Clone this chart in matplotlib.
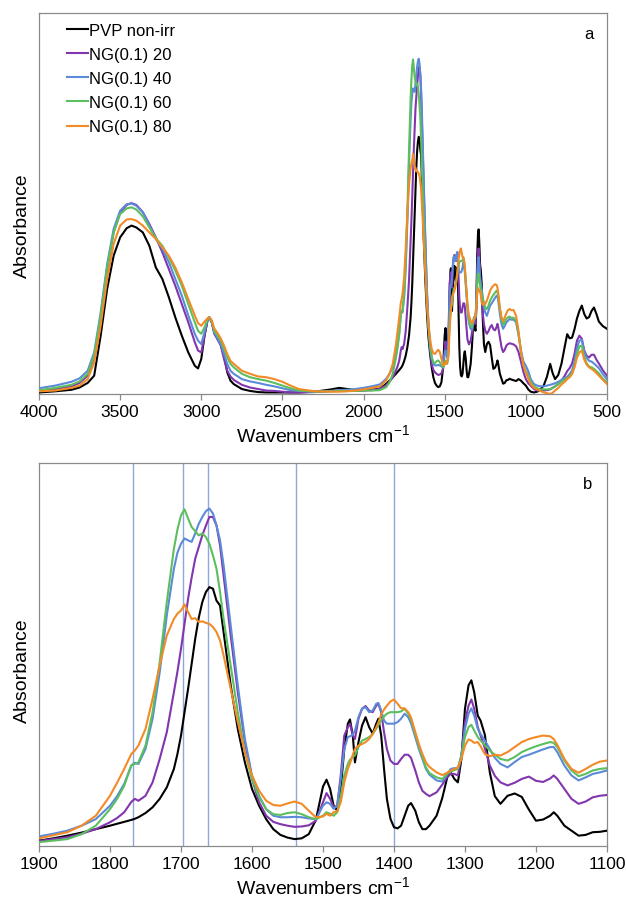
import matplotlib
matplotlib.use('Agg')
import matplotlib.pyplot as plt

plt.rcParams['font.family'] = ['Liberation Sans', 'DejaVu Sans']
plt.rcParams['mathtext.fontset'] = 'custom'
plt.rcParams['mathtext.rm'] = 'Liberation Sans'
plt.rcParams['mathtext.default'] = 'regular'

## wavenumber grids (cm-1)
wn_hi = [4000, 3900, 3800, 3750, 3700, 3660, 3620, 3580, 3540, 3500,
         3460, 3430, 3400, 3360, 3320, 3280, 3240, 3200, 3160, 3120,
         3080, 3040, 3020, 3000, 2980, 2960, 2950, 2935, 2920, 2900,
         2880, 2860, 2840, 2820, 2800, 2750, 2700, 2650, 2600, 2550,
         2500, 2450, 2400, 2300, 2200, 2150, 2100, 2050, 2000, 1950]
wn_mid = [1900, 1880, 1860, 1840, 1820, 1800, 1790, 1780, 1770, 1765,
          1760, 1750, 1740, 1730, 1720, 1710, 1705, 1700, 1695, 1690,
          1685, 1680, 1675, 1670, 1665, 1660, 1655, 1650, 1645, 1640,
          1630, 1620, 1610, 1600, 1590, 1580, 1570, 1560, 1550, 1540,
          1530, 1520, 1510, 1500, 1495, 1490, 1485, 1480, 1475, 1470,
          1465, 1462, 1458, 1455, 1450, 1445, 1440, 1435, 1430, 1425,
          1422, 1418, 1414, 1410, 1405, 1400, 1395, 1390, 1385, 1380,
          1376, 1370, 1365, 1360, 1355, 1350, 1340, 1332, 1325, 1320,
          1315, 1310, 1305, 1300, 1295, 1291, 1287, 1282, 1278, 1272,
          1265, 1258, 1250, 1240, 1230, 1220, 1210, 1200, 1190, 1180,
          1175, 1170, 1160, 1150, 1140, 1130, 1120, 1110, 1100]
wn_lo = [1090, 1075, 1060, 1045, 1030, 1015, 1000, 985, 970, 950,
         930, 910, 890, 870, 850, 835, 820, 800, 780, 760,
         745, 730, 715, 700, 685, 670, 655, 640, 625, 610,
         595, 580, 565, 550, 525, 500]

## absorbance (arbitrary units, 0-100 = axis height)
pvp_hi = [0.4, 0.7, 1.1, 1.7, 2.9, 4.8, 15.3, 27.6, 36.3, 41.1,
          43.5, 44.2, 43.7, 42.4, 38.9, 33.2, 30.2, 25.4, 20.1, 15.3,
          10.9, 7.4, 6.7, 9.2, 15.3, 19.7, 20.1, 18.8, 16.2, 14.4,
          13.1, 10.1, 5.7, 3.5, 2.6, 1.3, 0.8, 0.5, 0.4, 0.4,
          0.4, 0.4, 0.4, 0.6, 1.2, 1.6, 1.3, 1.0, 1.0, 1.1]
pvp_mid = [1.4, 2.0, 2.7, 3.5, 4.4, 5.3, 5.8, 6.3, 6.8, 7.1,
           7.5, 8.6, 10.1, 12.3, 15.3, 20.1, 24.0, 28.8, 34.9, 41.0,
           47.5, 54.0, 59.5, 63.6, 66.2, 67.5, 67.1, 64.0, 62.7, 55.8,
           41.9, 30.5, 21.8, 14.9, 10.5, 7.0, 4.4, 2.9, 2.2, 1.8,
           2.0, 3.1, 6.8, 15.5, 17.3, 14.9, 10.5, 9.2, 14.9, 25.3,
           31.9, 33.0, 28.8, 21.8, 27.1, 31.4, 33.6, 31.0, 29.3, 31.9,
           33.2, 28.8, 20.1, 12.3, 7.1, 4.9, 4.6, 5.3, 7.9, 10.5,
           11.2, 9.2, 6.2, 4.4, 4.4, 5.3, 7.9, 12.5, 17.9, 19.2,
           17.5, 16.6, 22.7, 35.8, 41.9, 43.2, 40.1, 34.0, 32.7, 29.0,
           19.2, 13.0, 11.0, 13.1, 13.7, 12.8, 9.5, 6.6, 6.9, 7.9,
           8.8, 7.9, 5.3, 4.0, 2.7, 2.9, 3.6, 3.7, 4.0]
pvp_lo = [3.8, 3.6, 3.4, 3.9, 3.5, 2.8, 2.2, 1.2, 0.6, 0.4,
          0.6, 1.2, 2.2, 4.5, 7.9, 5.5, 3.9, 5.0, 8.0, 12.5,
          15.7, 14.6, 14.8, 17.0, 19.8, 21.8, 23.2, 21.0, 19.8, 20.2,
          21.8, 22.7, 21.0, 19.0, 17.8, 17.1]

ng20_hi = [0.9, 1.3, 2.0, 2.9, 4.8, 9.2, 19.7, 32.8, 42.4, 47.7,
           49.6, 50.1, 49.6, 47.7, 44.6, 41.1, 37.2, 32.8, 28.4, 23.6,
           18.8, 13.6, 11.4, 10.9, 15.3, 19.7, 20.1, 18.8, 15.8, 14.4,
           12.7, 9.2, 6.1, 4.6, 3.7, 2.4, 1.7, 1.3, 0.9, 0.8,
           0.6, 0.4, 0.4, 0.5, 0.8, 0.9, 0.9, 0.8, 0.9, 1.0]
ng20_mid = [1.3, 1.8, 2.3, 3.2, 4.4, 6.2, 7.3, 8.8, 11.5, 12.3,
            11.8, 13.1, 16.6, 22.7, 29.7, 40.1, 45.5, 51.4, 58.0, 64.5,
            70.0, 74.9, 78.0, 81.0, 83.5, 85.8, 85.8, 83.6, 78.4, 70.6,
            54.9, 40.1, 27.1, 17.5, 11.4, 7.9, 6.3, 5.7, 5.3, 5.0,
            5.1, 5.4, 6.6, 11.4, 13.8, 12.3, 10.1, 10.5, 18.4, 28.8,
            31.0, 31.9, 28.8, 27.9, 33.2, 35.8, 36.5, 35.3, 34.9, 36.6,
            37.1, 34.9, 29.7, 25.3, 22.3, 21.4, 21.4, 22.7, 23.8, 23.8,
            23.0, 19.7, 16.6, 14.4, 13.6, 13.0, 14.0, 16.0, 18.0, 18.8,
            18.8, 18.4, 23.6, 32.3, 36.6, 38.2, 35.8, 31.0, 28.8, 25.5,
            21.0, 18.3, 16.6, 15.8, 16.5, 17.5, 18.1, 17.0, 16.7, 17.6,
            18.4, 17.5, 14.9, 12.3, 11.0, 11.6, 12.7, 13.1, 13.3]
ng20_lo = [13.2, 13.0, 12.5, 11.0, 8.5, 5.8, 3.9, 2.8, 2.2, 1.3,
           0.9, 0.9, 0.9, 1.0, 1.2, 1.6, 2.0, 2.6, 3.5, 4.8,
           6.0, 6.8, 8.0, 10.5, 14.0, 15.3, 14.5, 11.4, 10.0, 9.6,
           10.3, 10.3, 9.0, 8.0, 6.2, 4.8]

ng40_hi = [1.5, 2.2, 3.2, 4.1, 6.1, 10.9, 21.4, 34.1, 43.3, 48.1,
           49.8, 50.0, 49.4, 47.7, 44.2, 40.7, 38.1, 34.6, 30.2, 25.8,
           20.6, 15.8, 14.0, 13.1, 16.2, 19.7, 20.1, 18.8, 16.2, 14.6,
           13.1, 10.5, 7.9, 6.1, 5.3, 3.9, 3.3, 2.9, 2.4, 2.0,
           1.5, 1.0, 0.8, 0.6, 0.8, 1.0, 1.1, 1.3, 1.6, 2.0]
ng40_mid = [2.5, 3.2, 4.0, 5.3, 7.0, 10.5, 13.0, 16.2, 21.0, 21.7,
            21.4, 25.3, 33.2, 45.3, 60.1, 72.3, 76.5, 78.8, 80.2, 79.7,
            79.3, 81.5, 84.0, 85.8, 87.3, 88.0, 86.7, 83.6, 79.7, 73.2,
            57.5, 41.9, 27.9, 18.4, 13.1, 9.6, 7.9, 7.5, 7.5, 7.6,
            7.5, 7.2, 7.0, 10.5, 11.4, 11.0, 9.7, 10.5, 17.5, 25.3,
            28.4, 28.6, 29.0, 30.1, 33.6, 35.8, 36.2, 34.9, 35.3, 37.1,
            37.3, 35.3, 32.7, 31.9, 31.9, 31.9, 32.3, 33.2, 34.5, 33.6,
            32.0, 28.4, 25.3, 22.7, 20.1, 18.6, 17.1, 16.8, 18.8, 20.1,
            20.3, 20.3, 23.6, 30.6, 34.5, 35.9, 34.0, 30.6, 29.2, 27.5,
            25.3, 23.0, 21.4, 20.5, 21.9, 23.2, 23.8, 24.5, 25.2, 25.8,
            25.8, 24.5, 21.0, 18.4, 17.1, 17.9, 18.8, 19.2, 19.7]
ng40_lo = [19.5, 19.5, 18.8, 15.5, 11.5, 8.5, 7.4, 6.0, 3.9, 2.6,
           2.2, 2.0, 2.0, 2.2, 2.4, 2.6, 2.8, 3.2, 3.7, 4.2,
           4.5, 5.2, 6.2, 8.5, 12.0, 14.0, 14.2, 11.0, 9.5, 8.7,
           8.5, 8.0, 7.4, 6.8, 5.2, 3.9]

ng60_hi = [1.0, 1.6, 2.4, 3.3, 5.3, 10.1, 20.6, 33.2, 42.4, 47.2,
           48.7, 49.0, 48.4, 46.6, 43.7, 40.9, 38.9, 35.9, 32.4, 28.4,
           23.6, 18.8, 16.6, 15.8, 17.5, 19.7, 20.1, 19.0, 16.6, 15.3,
           14.0, 11.8, 9.6, 7.9, 7.0, 5.3, 4.4, 3.9, 3.5, 2.9,
           2.2, 1.5, 0.9, 0.6, 0.7, 0.8, 0.8, 0.8, 0.9, 0.9]
ng60_mid = [1.0, 1.4, 1.8, 3.1, 5.3, 9.6, 12.3, 15.7, 21.0, 21.4,
            21.8, 26.2, 34.9, 47.9, 63.6, 77.5, 82.5, 86.2, 87.8, 85.4,
            83.2, 82.1, 81.0, 81.5, 80.6, 78.8, 75.8, 72.3, 66.2, 59.2,
            47.1, 34.9, 24.4, 17.5, 12.7, 9.6, 8.3, 8.1, 8.6, 8.8,
            8.3, 7.5, 7.0, 7.9, 8.8, 8.4, 7.9, 8.8, 13.1, 18.4,
            21.4, 22.5, 23.2, 23.6, 25.8, 27.5, 27.9, 28.4, 29.2, 30.6,
            31.5, 32.8, 33.8, 34.5, 34.9, 34.9, 34.9, 35.1, 35.8, 34.5,
            33.0, 29.2, 26.2, 23.2, 20.5, 19.0, 17.9, 17.5, 18.8, 19.4,
            19.8, 20.1, 23.6, 28.4, 31.0, 31.6, 30.1, 28.4, 27.5, 26.3,
            24.9, 23.8, 22.7, 22.3, 23.2, 24.5, 25.3, 26.0, 26.6, 27.1,
            26.9, 25.8, 22.3, 19.7, 18.2, 18.8, 19.7, 20.1, 20.3]
ng60_lo = [20.0, 20.0, 19.2, 15.8, 11.0, 7.5, 6.0, 4.8, 3.2, 2.0,
           1.5, 1.2, 1.2, 1.2, 1.3, 1.6, 2.0, 2.6, 3.2, 3.8,
           4.2, 4.6, 5.5, 7.5, 10.5, 12.5, 12.7, 9.8, 8.0, 7.2,
           7.0, 6.6, 6.0, 5.4, 4.0, 3.1]

ng80_hi = [0.7, 0.9, 1.6, 2.2, 3.9, 8.3, 17.9, 30.2, 39.4, 44.2,
           45.8, 45.9, 45.5, 44.2, 42.4, 40.7, 38.5, 36.3, 33.2, 29.3,
           24.9, 20.6, 18.6, 17.9, 19.0, 19.9, 20.1, 19.3, 17.2, 16.0,
           14.6, 12.7, 10.5, 8.7, 7.9, 6.1, 5.3, 4.6, 4.4, 3.9,
           3.2, 2.2, 1.3, 0.7, 0.6, 0.6, 0.7, 0.9, 1.2, 1.6]
ng80_mid = [2.0, 2.8, 3.6, 5.3, 7.9, 13.1, 16.5, 20.1, 24.0, 24.9,
            26.2, 30.5, 38.4, 47.1, 54.9, 59.2, 60.6, 61.4, 63.0, 61.0,
            59.2, 59.4, 58.4, 58.6, 58.2, 57.9, 57.1, 55.8, 53.6, 49.7,
            41.0, 32.3, 24.4, 18.4, 14.4, 11.8, 10.7, 10.5, 11.1, 11.6,
            11.0, 9.2, 7.5, 7.7, 8.4, 7.9, 8.8, 9.0, 11.4, 16.6,
            20.1, 21.5, 23.8, 25.3, 26.2, 26.6, 27.1, 27.9, 29.2, 31.0,
            32.2, 34.3, 35.6, 36.6, 37.7, 38.2, 37.1, 35.9, 35.9, 34.9,
            33.5, 29.7, 26.6, 24.0, 21.8, 20.6, 19.2, 18.5, 19.1, 19.7,
            20.1, 20.5, 22.7, 26.2, 27.8, 27.5, 26.9, 27.1, 26.0, 24.0,
            23.4, 23.8, 23.6, 24.5, 25.8, 27.1, 27.9, 28.4, 28.8, 28.6,
            27.9, 26.4, 22.7, 20.1, 19.1, 20.1, 21.2, 22.0, 22.3]
ng80_lo = [22.0, 22.0, 20.5, 16.5, 11.0, 7.5, 5.7, 4.0, 2.6, 1.6,
           1.2, 0.8, 0.4, 0.2, 0.0, 0.3, 0.9, 1.6, 2.5, 3.2,
           3.9, 4.4, 5.2, 7.0, 9.5, 10.9, 11.4, 9.0, 7.7, 7.0,
           6.6, 6.1, 5.5, 4.8, 3.7, 2.6]

labels = ['PVP non-irr', 'NG(0.1) 20', 'NG(0.1) 40', 'NG(0.1) 60', 'NG(0.1) 80']
colors = ['#000000', '#8236AE', '#5B8AD8', '#5CBF5E', '#F28A26']
marker_lines = [1768, 1697, 1662, 1538, 1400]

wn = wn_hi + wn_mid + wn_lo
series = [pvp_hi + pvp_mid + pvp_lo,
          ng20_hi + ng20_mid + ng20_lo,
          ng40_hi + ng40_mid + ng40_lo,
          ng60_hi + ng60_mid + ng60_lo,
          ng80_hi + ng80_mid + ng80_lo]
for s in series:
    assert len(s) == len(wn)

fig = plt.figure(figsize=(6.26, 9.03), dpi=100)
ax_a = fig.add_axes([0.0623, 0.5626, 0.9073, 0.4219])
ax_b = fig.add_axes([0.0623, 0.0620, 0.9073, 0.4247])

# the 1900-1100 marker lines sit behind the spectra
for x in marker_lines:
    ax_b.axvline(x, color='#8EA6D9', lw=1.0, zorder=1)

for ax in (ax_a, ax_b):
    for y, lab, c in zip(series, labels, colors):
        ax.plot(wn, y, color=c, lw=1.5, label=lab, zorder=3)
    ax.set_ylim(0, 100)
    ax.set_yticks([])
    for sp in ax.spines.values():
        sp.set_color('#8a8a8a')
        sp.set_linewidth(0.9)
    ax.tick_params(axis='x', direction='out', length=4, width=0.9,
                   color='#8a8a8a', labelsize=12.5, pad=3)
    ax.set_xlabel('Wavenumbers cm$^{-1}$', fontsize=14, labelpad=3)
    ax.set_ylabel('Absorbance', fontsize=14)

ax_a.set_xlim(4000, 500)
ax_a.set_xticks(range(4000, 499, -500))
ax_b.set_xlim(1900, 1100)
ax_b.set_xticks(range(1900, 1099, -100))

ax_a.yaxis.set_label_coords(-0.014, 0.444)
ax_b.yaxis.set_label_coords(-0.014, 0.46)

ax_a.text(0.968, 0.945, 'a', transform=ax_a.transAxes, ha='center', va='center', fontsize=12)
ax_b.text(0.965, 0.945, 'b', transform=ax_b.transAxes, ha='center', va='center', fontsize=12)

ax_a.legend(loc='upper left', bbox_to_anchor=(0.037, 0.992), frameon=False,
            fontsize=12, handlelength=1.25, handletextpad=0.08,
            labelspacing=0.55, borderaxespad=0.0)

fig.savefig('out.png', dpi=100)
